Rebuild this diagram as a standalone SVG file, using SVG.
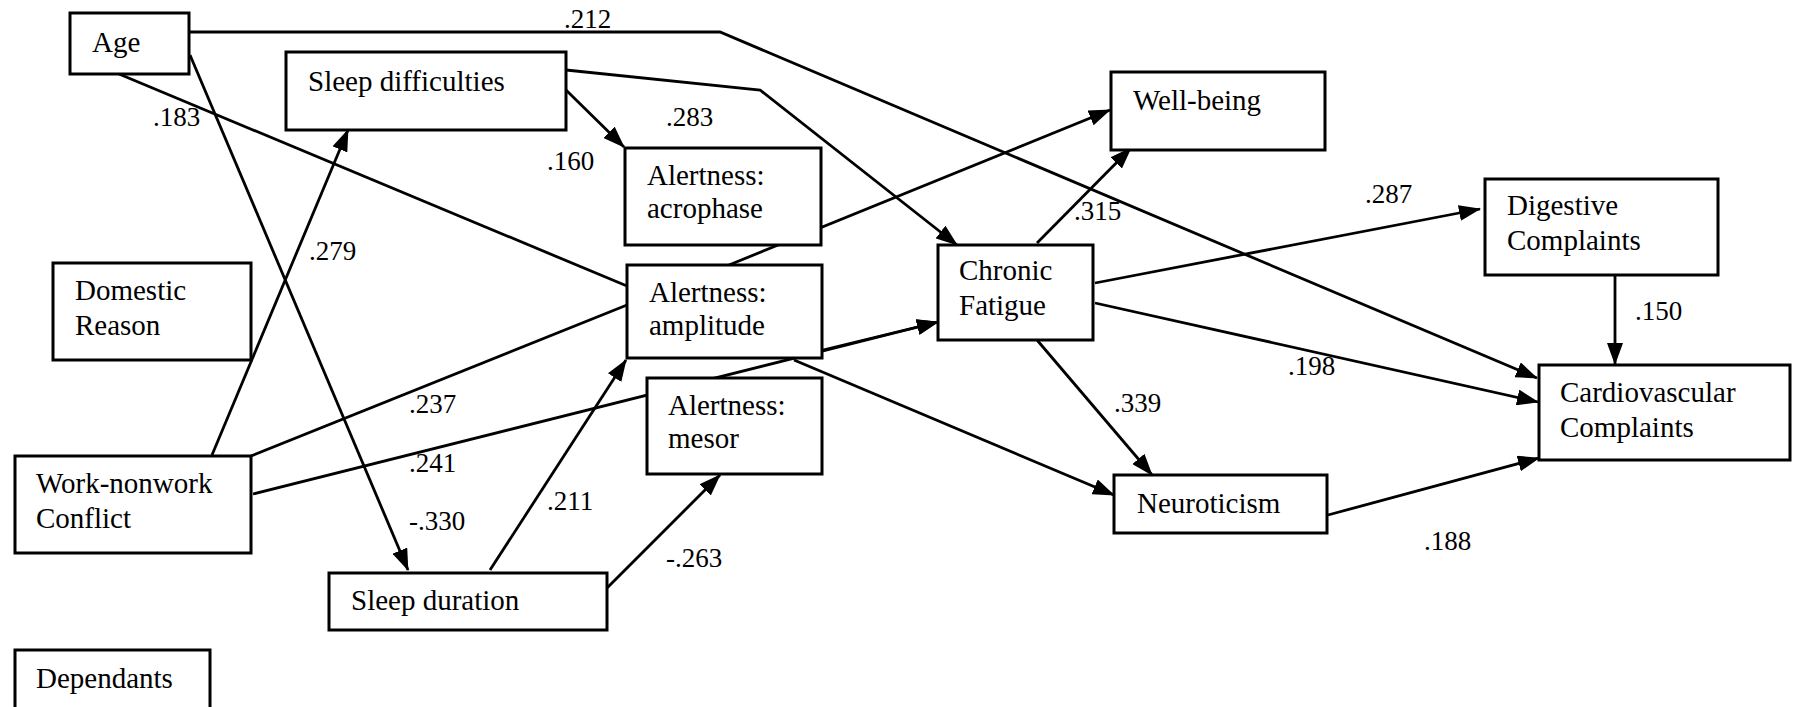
<svg xmlns="http://www.w3.org/2000/svg" width="1798" height="707" viewBox="0 0 1798 707">
<style>
.box{fill:#fff;stroke:#000;stroke-width:3}
.n{font-family:"Liberation Serif","Times New Roman",serif;font-size:29px;fill:#000}
.l{font-family:"Liberation Serif","Times New Roman",serif;font-size:27px;fill:#000}
.c{fill:none;stroke:#000;stroke-width:2.8}
.a{marker-end:url(#ah)}
</style>
<defs>
<marker id="ah" markerUnits="userSpaceOnUse" markerWidth="22" markerHeight="16" refX="21" refY="8" orient="auto">
<path d="M0,0 L22,8 L0,16 z" fill="#000"/>
</marker>
</defs>
<rect width="1798" height="707" fill="#fff"/>
<g id="connectors">
<polyline class="c a" points="189,32 720,32 1537,378"/>
<line class="c" x1="119" y1="74" x2="627" y2="286"/>
<line class="c a" x1="190" y1="55" x2="408" y2="570"/>
<line class="c a" x1="566" y1="90" x2="624" y2="147"/>
<polyline class="c a" points="566,70 760,90 957,245"/>
<line class="c a" x1="212" y1="455" x2="348" y2="130"/>
<line class="c" x1="251" y1="456" x2="627" y2="305"/>
<line class="c a" x1="253" y1="494" x2="938" y2="322"/>
<line class="c a" x1="490" y1="570" x2="626" y2="360"/>
<line class="c a" x1="607" y1="588" x2="720" y2="475"/>
<line class="c a" x1="729" y1="265" x2="1110" y2="110"/>
<line class="c a" x1="823" y1="350" x2="938" y2="322"/>
<line class="c a" x1="794" y1="360" x2="1114" y2="495"/>
<line class="c a" x1="1037" y1="243" x2="1131" y2="148"/>
<line class="c a" x1="1095" y1="283" x2="1480" y2="209"/>
<line class="c a" x1="1095" y1="303" x2="1538" y2="402"/>
<line class="c a" x1="1037" y1="340" x2="1152" y2="475"/>
<line class="c a" x1="1615" y1="275" x2="1615" y2="364"/>
<line class="c a" x1="1328" y1="515" x2="1539" y2="458"/>
</g>
<g id="labels">
<text class="l" x="564" y="28">.212</text>
<text class="l" x="153" y="126">.183</text>
<text class="l" x="309" y="260">.279</text>
<text class="l" x="547" y="170">.160</text>
<text class="l" x="666" y="126">.283</text>
<text class="l" x="1074" y="220">.315</text>
<text class="l" x="1365" y="203">.287</text>
<text class="l" x="1635" y="320">.150</text>
<text class="l" x="1288" y="375">.198</text>
<text class="l" x="1114" y="412">.339</text>
<text class="l" x="1424" y="550">.188</text>
<text class="l" x="409" y="413">.237</text>
<text class="l" x="409" y="472">.241</text>
<text class="l" x="409" y="530">-.330</text>
<text class="l" x="547" y="510">.211</text>
<text class="l" x="666" y="567">-.263</text>
</g>
<g id="age"><rect class="box" x="70" y="13" width="119" height="61"/><text class="n" x="92" y="52">Age</text></g>
<g id="sleep-difficulties"><rect class="box" x="286" y="52" width="280" height="78"/><text class="n" x="308" y="91">Sleep difficulties</text></g>
<g id="domestic-reason"><rect class="box" x="53" y="263" width="198" height="97"/><text class="n" x="75" y="300">Domestic</text><text class="n" x="75" y="335">Reason</text></g>
<g id="work-nonwork-conflict"><rect class="box" x="15" y="456" width="236" height="97"/><text class="n" x="36" y="493">Work-nonwork</text><text class="n" x="36" y="528">Conflict</text></g>
<g id="dependants"><rect class="box" x="15" y="650" width="195" height="62"/><text class="n" x="36" y="688">Dependants</text></g>
<g id="sleep-duration"><rect class="box" x="329" y="573" width="278" height="57"/><text class="n" x="351" y="610">Sleep duration</text></g>
<g id="alertness-acrophase"><rect class="box" x="625" y="148" width="196" height="97"/><text class="n" x="647" y="185">Alertness:</text><text class="n" x="647" y="218">acrophase</text></g>
<g id="alertness-amplitude"><rect class="box" x="627" y="265" width="195" height="93"/><text class="n" x="649" y="302">Alertness:</text><text class="n" x="649" y="335">amplitude</text></g>
<g id="alertness-mesor"><rect class="box" x="647" y="378" width="175" height="96"/><text class="n" x="668" y="415">Alertness:</text><text class="n" x="668" y="448">mesor</text></g>
<g id="chronic-fatigue"><rect class="box" x="938" y="245" width="155" height="95"/><text class="n" x="959" y="280">Chronic</text><text class="n" x="959" y="315">Fatigue</text></g>
<g id="well-being"><rect class="box" x="1111" y="72" width="214" height="78"/><text class="n" x="1133" y="110">Well-being</text></g>
<g id="neuroticism"><rect class="box" x="1114" y="475" width="213" height="58"/><text class="n" x="1137" y="513">Neuroticism</text></g>
<g id="digestive-complaints"><rect class="box" x="1485" y="179" width="233" height="96"/><text class="n" x="1507" y="215">Digestive</text><text class="n" x="1507" y="250">Complaints</text></g>
<g id="cardiovascular-complaints"><rect class="box" x="1539" y="365" width="251" height="95"/><text class="n" x="1560" y="402">Cardiovascular</text><text class="n" x="1560" y="437">Complaints</text></g>
</svg>
